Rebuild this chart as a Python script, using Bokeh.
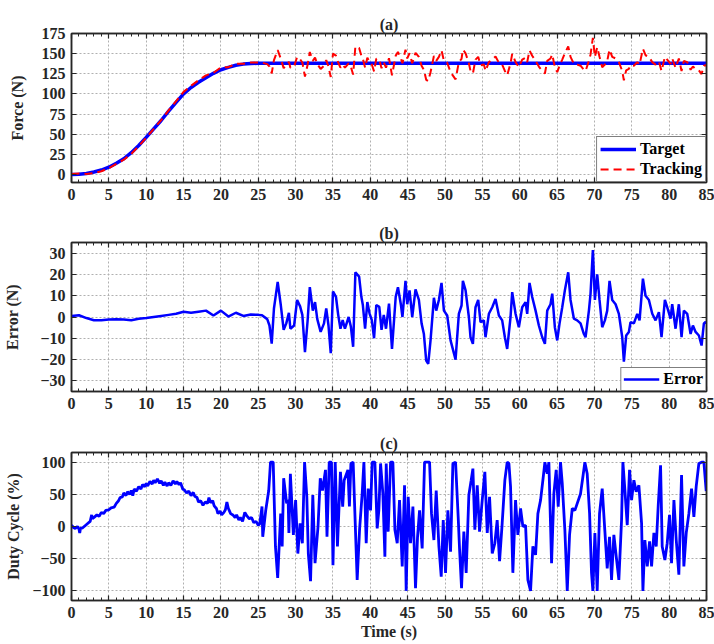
from bokeh.plotting import figure
from bokeh.models import (LinearAxis, SingleIntervalTicker, Range1d, Legend, LegendItem,
                          CustomJSTickFormatter)
from bokeh.layouts import column
from bokeh.embed import file_html
from bokeh.resources import INLINE

# ---------------- data ----------------
TARGET_STEADY = 138.0
early_t = list(range(0, 26))
target_early = [0, 0.3, 1.2, 3, 5.5, 9, 14, 19.5, 27, 36, 46, 56.5, 67, 78.5, 89.5,
                100, 108, 114.5, 120, 125.5, 130, 133, 135.5, 137, 137.8, 138]
err_early = [0.5, 0.8, -0.5, -1.5, -1.5, -1.2, -1.0, -1.2, -1.5, -0.8, -0.5, 0, 0.5, 1.0,
             1.5, 2.5, 2.0, 2.5, 3.0, 0.7, 3.0, 0.2, 2.0, 0.5, 1.2, 1.0]

late_t = [25.5, 26.2, 26.5, 26.8, 27.1, 27.3, 27.6, 28.0, 28.4, 28.75, 29.1, 29.3, 29.8, 30.2,
          30.6, 30.9, 31.25, 31.6, 31.9, 32.3, 32.6, 32.9, 33.35, 33.8, 34.1, 34.4, 34.7, 35.0,
          35.4, 35.7, 36.0, 36.3, 36.6, 37.1, 37.4, 37.7, 38.0, 38.5, 38.8, 39.0, 39.3, 39.6,
          39.9, 40.2, 40.5, 40.8, 41.2, 41.5, 41.8, 42.1, 42.5, 42.9, 43.4, 43.7, 44.1, 44.3,
          44.71, 44.94, 45.25, 45.61, 46.05, 46.5, 46.86, 47.17, 47.48, 47.75, 48.06, 48.51,
          48.82, 49.18, 49.53, 49.85, 50.29, 50.74, 51.41, 51.85, 52.21, 52.39, 52.75, 53.19,
          53.41, 53.73, 54.08, 54.44, 54.75, 55.2, 55.42, 55.87, 56.32, 56.76, 57.21, 57.65,
          58.01, 58.32, 58.77, 58.99, 59.44, 59.88, 60.33, 60.78, 61.0, 61.31, 61.67, 62.12,
          62.56, 63.01, 63.37, 63.68, 64.12, 64.35, 64.7, 65.02, 65.33, 65.69, 66.04, 66.49,
          66.8, 67.25, 67.69, 68.14, 68.59, 68.81, 69.26, 69.48, 69.79, 70.06, 70.37, 70.68,
          71.04, 71.4, 71.71, 72.02, 72.38, 72.83, 73.27, 73.72, 73.94, 74.25, 74.61, 74.83,
          75.28, 75.73, 76.04, 76.49, 76.84, 77.29, 77.74, 78.18, 78.63, 78.98, 79.43, 79.74,
          80.19, 80.41, 80.86, 81.3, 81.66, 81.97, 82.42, 82.87, 83.18, 83.54, 83.98, 84.34,
          84.65, 84.87, 85.0]
err_late = [0.8, -1, -4, -12.5, 4, 9, 16.5, 6, -6, -3, 2, -5.5, -4, 8,
            5, 1, -16.5, -2, 14, 3, 7, -1, -7, -3, 4, -4, -17, 12,
            9.5, 1, -5.5, -1.5, -5.5, 0, -4.6, -14, 21, 19, 9.5, 5.6, -5.5, 7,
            1.6, -1.5, -10, 5.6, 4.8, -6, 1, -5.5, 6.3, -15, 9.5, 14, 5.6, 0,
            17, 6, 12.5, 0, 13, 8, -3, -8, -20.5, -22, -11, 9,
            3, 8, 16, 3, 0.7, -11, -20, 1.5, 5.4, 17, 12.5, 0,
            -9.5, -12.6, 4.6, 8, -2.4, -1.6, -9.5, 1.5, 4.6, 8.5, 0.7, -1.6,
            -9.5, -15, 0, 11.7, 1.5, -4.8, 4.6, 7, 1.5, 16, 9.4, 3,
            -4, -9.5, -12.6, 3, 6, 11, -4.8, -11, -3, 4.6, 12.5, 21,
            8, -0.8, -1.6, -3, -8, -9.5, 3, 11, 31.5, 8, 20, 8,
            -4.8, -1.6, 3, 17, 8, 6, 1.5, -9.5, -21, -8.7, -7, -2.4,
            -3, 1.5, -1.6, 18, 10, 8, 1.5, -1.6, 2.3, -9.5, 8, 4.6,
            -0.8, 6, -5.5, 6, -9.5, 3, 1.5, -8, -4, -7, -8.7, -13.4,
            -3, -2.4, -3]

duty_early_t = [0, 0.3, 0.5, 0.8, 1.0, 1.1, 1.2, 1.5, 1.9, 2.2, 2.5, 2.7, 2.8, 3.1, 3.4, 3.7,
                4.0, 4.3, 4.6, 5.0, 5.3, 5.7, 6.0, 6.3, 6.5, 6.8, 7.0, 7.3, 7.5, 7.8, 8.0, 8.2,
                8.4, 8.7, 9.0, 9.3, 9.5, 9.8, 10.0, 10.2, 10.5, 10.8, 11.0, 11.2, 11.5, 11.8,
                12.0, 12.3, 12.5, 12.8, 13.0, 13.3, 13.6, 13.9, 14.1, 14.4, 14.6, 14.9, 15.1,
                15.4, 15.7, 16.0, 16.3, 16.5, 16.8, 17.0, 17.3, 17.6, 17.9, 18.2, 18.4, 18.6,
                18.9, 19.1, 19.4, 19.6, 19.9, 20.1, 20.4, 20.6, 20.8, 21.0, 21.3, 21.6, 21.9,
                22.1, 22.4, 22.6, 22.9, 23.2, 23.5, 23.8, 24.1, 24.4, 24.7, 25.0, 25.2, 25.5,
                25.6, 26.0]
duty_early_v = [2, -2, -3, 0, -4, -10, -3, -2, 2, 5, 8, 18, 12, 15, 18, 16,
                22, 20, 25, 26, 29, 30, 36, 40, 45, 46, 52, 48, 54, 50, 56, 48,
                58, 55, 62, 58, 65, 62, 67, 63, 70, 66, 72, 68, 74, 67,
                71, 64, 69, 63, 68, 64, 71, 66, 70, 65, 68, 58, 57,
                52, 55, 48, 53, 47, 45, 38, 40, 33, 38, 36, 45, 37,
                40, 32, 28, 20, 24, 18, 22, 26, 38, 28, 20, 18, 14,
                18, 10, 14, 8, 22, 16, 12, 14, 6, 8, 2, 4, 31,
                -16, 25]

duty_late_t = [26.4, 26.64, 27.0, 27.3, 27.6, 28.0, 28.2, 28.4, 28.8, 29.0, 29.1, 29.3, 29.7,
               30.0, 30.3, 30.6, 30.9, 31.2, 31.5, 31.7, 32.0, 32.3, 32.6, 33.0, 33.3, 33.6,
               34.0, 34.2, 34.5, 34.8, 35.0, 35.3, 35.6, 36.0, 36.3, 36.5, 37.0, 37.2, 37.4,
               37.7, 38.24, 38.56, 38.91,
               39.14, 39.45, 39.72, 40.03, 40.25, 40.61, 40.92, 41.14, 41.37, 41.68, 41.95, 42.13,
               42.39, 42.71, 43.02, 43.29, 43.6, 43.91, 44.27, 44.58, 44.8, 45.07, 45.38, 45.7,
               46.05, 46.32, 46.59, 46.94, 47.26, 47.61, 47.93, 48.19, 48.51, 48.82, 49.18, 49.49,
               49.76, 50.07, 50.38, 50.74, 51.05, 51.41, 51.76, 51.94, 52.21, 52.52, 52.83, 53.19,
               53.5, 53.73, 53.99, 54.31, 54.62, 54.98, 55.33, 55.65, 55.96, 56.32, 56.67, 56.98,
               57.3, 57.65, 58.01, 58.32, 58.55, 58.77, 59.08, 59.44, 59.75, 60.11, 60.42, 60.78,
               61.09, 61.45, 61.76, 62.12, 62.43, 62.79, 63.1, 63.37, 63.68, 63.9, 64.26, 64.57,
               64.88, 65.15, 65.46, 65.69, 66.04, 66.36, 66.67, 67.03, 67.38, 67.7, 68.14, 68.45,
               68.72, 69.03, 69.35, 69.61, 69.79, 70.06, 70.37, 70.68, 71.04, 71.4, 71.71, 72.02,
               72.29, 72.6, 72.92, 73.27, 73.63, 73.81, 74.08, 74.39, 74.7, 74.97, 75.28, 75.59,
               75.95, 76.31, 76.49, 76.75, 77.07, 77.38, 77.65, 77.96, 78.27, 78.54, 78.85, 79.07,
               79.43, 79.74, 80.05, 80.32, 80.64, 80.95, 81.3, 81.66, 81.97, 82.29, 82.64, 83.0,
               83.31, 83.62, 83.98, 84.34, 84.65, 84.96]
duty_late_v = [56, 100, 100, -31, -80, 20, -31, 75, 36, 41, -10, 82, -13,
               41, -42, 5, -26, 100, 46, -42, -85, 49, -57, 0, 75, 56,
               88, -16, 100, 100, -60, 100, -31, 85, 31, 72, 88, 31, 98,
               100, -83, -5, 51,
               100, -26, 59, 25, 100, 100, -3, 25, 98, 51, -47, 98,
               -8, 100, 100, -5, -26, 41, -62, 64, -100, 46, -26, 31,
               -96, -16, 25, -34, 100, 100, 100, 20, -21, 56, -31, -78,
               10, -72, 25, -39, 98, 100, 15, -34, -96, -8, -72, 49,
               72, 90, -5, 64, -8, 41, 85, -10, 46, -42, -26, 10,
               -54, 5, 72, 100, 98, 62, -72, 41, -13, 28, 0, 2,
               -83, -100, -31, -44, 20, 41, 72, 100, 82, 100, -57, 51,
               88, 31, 100, 67, -5, -100, -13, 28, 25, 36, 51, 77,
               100, 82, 20, -72, -100, -10, -100, 20, 59, -8, -65, -16,
               -83, -13, -47, -83, 10, 100, 56, 2, 88, 41, 72, 54,
               64, 5, -100, -21, -62, -23, -62, -10, -31, 33, 95, -31,
               -52, -26, 18, -57, 41, -21, -75, 80, -62, -10, 20, 59,
               15, 62, 98, 100, 100, 55]

x_ticks_interval = 5

# derived series
target_t = early_t + [85]
target_v = target_early + [TARGET_STEADY]
err_t = early_t + late_t
err_v = err_early + err_late
track_t = err_t
track_v = [f + e for f, e in zip(target_early, err_early)] + [TARGET_STEADY + e for e in err_late]
duty_t = duty_early_t + duty_late_t
duty_v = duty_early_v + duty_late_v

# ---------------- styling ----------------
FONT = "Liberation Serif"
TXT = "#262626"
AX = "#262626"
FS = "16px"


def style_axis(ax, labels=True):
    ax.axis_line_color = AX
    ax.axis_line_width = 1.5
    ax.major_tick_line_color = AX
    ax.minor_tick_line_color = AX
    ax.major_tick_in = 5
    ax.major_tick_out = 0
    ax.minor_tick_in = 3
    ax.minor_tick_out = 0
    ax.major_tick_line_width = 1.2
    ax.minor_tick_line_width = 1.0
    if labels:
        ax.major_label_text_font = FONT
        ax.major_label_text_font_style = "bold"
        ax.major_label_text_font_size = FS
        ax.major_label_text_color = TXT
        ax.axis_label_text_font = FONT
        ax.axis_label_text_font_style = "bold"
        ax.axis_label_text_font_size = FS
        ax.axis_label_text_color = TXT
    else:
        ax.formatter = CustomJSTickFormatter(code="return ''")
        ax.major_label_standoff = 0


def make_fig(height, top, bottom, yr, yint, ylabel, title, y_standoff, xlabel=None):
    p = figure(width=714, height=height, x_range=Range1d(0, 85), y_range=Range1d(*yr),
               output_backend="svg", toolbar_location=None,
               min_border_left=71, min_border_right=8, min_border_top=top,
               min_border_bottom=bottom, title=title)
    p.outline_line_color = AX
    p.outline_line_width = 1.5
    p.background_fill_color = "white"
    p.border_fill_color = "white"
    xt = SingleIntervalTicker(interval=x_ticks_interval, num_minor_ticks=5)
    yt = SingleIntervalTicker(interval=yint, num_minor_ticks=0)
    p.xaxis.ticker = xt
    p.yaxis.ticker = yt
    style_axis(p.xaxis[0])
    style_axis(p.yaxis[0])
    p.xaxis.major_label_standoff = 6
    p.yaxis.major_label_standoff = 6
    p.yaxis.axis_label = ylabel
    p.yaxis.axis_label_standoff = y_standoff
    if xlabel:
        p.xaxis.axis_label = xlabel
        p.xaxis.axis_label_standoff = 2
    top_ax = LinearAxis(ticker=xt)
    style_axis(top_ax, labels=False)
    p.add_layout(top_ax, "above")
    right_ax = LinearAxis(ticker=yt)
    style_axis(right_ax, labels=False)
    p.add_layout(right_ax, "right")
    for g in (p.xgrid[0], p.ygrid[0]):
        g.grid_line_color = "#b0b0b0"
        g.grid_line_dash = "2 2"
        g.grid_line_width = 1
    p.xgrid.ticker = xt
    p.ygrid.ticker = yt
    p.title.align = "center"
    p.title.text_font = FONT
    p.title.text_font_style = "bold"
    p.title.text_font_size = FS
    p.title.text_color = TXT
    p.title.standoff = 2
    return p


def style_legend(lg):
    lg.location = "bottom_right"
    lg.margin = 0
    lg.padding = 3
    lg.spacing = 2
    lg.glyph_width = 36
    lg.glyph_height = 18
    lg.label_height = 18
    lg.label_standoff = 4
    lg.label_text_font = FONT
    lg.label_text_font_style = "bold"
    lg.label_text_font_size = FS
    lg.label_text_color = "black"
    lg.border_line_color = "black"
    lg.border_line_width = 1
    lg.background_fill_color = "white"
    lg.background_fill_alpha = 1


# (a)
pa = make_fig(212, 33, 30, (-10, 175), 25, "Force (N)", "(a)", 13)
r1 = pa.line(target_t, target_v, line_color="#0000ff", line_width=3.5)
r2 = pa.line(track_t, track_v, line_color="#ff0000", line_width=2, line_dash="8 5")
lga = Legend(items=[LegendItem(label="Target", renderers=[r1]),
                    LegendItem(label="Tracking", renderers=[r2])])
style_legend(lga)
pa.add_layout(lga)

# (b)
pb = make_fig(210, 30, 31, (-35, 35), 10, "Error (N)", "(b)", 16)
r3 = pb.line(err_t, err_v, line_color="#0000ff", line_width=2.5)
lgb = Legend(items=[LegendItem(label="Error", renderers=[r3])])
style_legend(lgb)
lgb.padding = 2
pb.add_layout(lgb)

# (c)
pc = make_fig(222, 30, 44, (-115, 115), 50, "Duty Cycle (%)", "(c)", 7, xlabel="Time (s)")
pc.line(duty_t, duty_v, line_color="#0000ff", line_width=2.8)

layout = column(pa, pb, pc, spacing=0)
open("out.html", "w").write(file_html(layout, INLINE))
